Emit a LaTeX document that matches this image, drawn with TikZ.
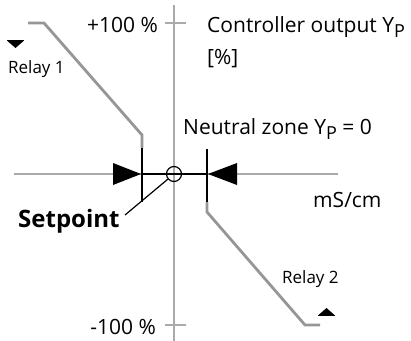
\documentclass[tikz,border=0pt]{standalone}
\usepackage{fontspec}
\setmainfont{Open Sans}
\definecolor{axisgray}{RGB}{170,170,170}
\definecolor{relaygray}{RGB}{150,150,150}
\begin{document}
\begin{tikzpicture}[x=1bp,y=-1bp,
  axisline/.style={draw=axisgray, line width=1.3bp},
  relayline/.style={draw=relaygray, line width=2.8bp, line join=miter},
  zoneline/.style={draw=black, line width=1.5bp},
  marker/.style={fill=black, draw=none},
  lbl/.style={font=\fontsize{21bp}{25bp}\selectfont, inner sep=0pt, anchor=base west},
  smalllbl/.style={font=\fontsize{17bp}{20bp}\selectfont, inner sep=0pt, anchor=base west},
  boldlbl/.style={font=\fontsize{24bp}{28bp}\selectfont\bfseries, inner sep=0pt, anchor=base west}]
\useasboundingbox (0,0) rectangle (411,341);
% axes
\coordinate (yt) at (174,5);
\coordinate (yb) at (174,341);
\coordinate (xl) at (14,174);
\coordinate (xr) at (338,174);
\draw[axisline] (yt) -- (yb);
\draw[axisline] (xl) -- (xr);
\coordinate (t1l) at (165,23); \coordinate (t1r) at (186,23);
\coordinate (t2l) at (165,325); \coordinate (t2r) at (186,325);
\draw[axisline] (t1l) -- (t1r);
\draw[axisline] (t2l) -- (t2r);
% relay 1 curve
\coordinate (r1a) at (28,23);
\coordinate (r1b) at (44,23);
\coordinate (r1c) at (142,135);
\coordinate (z1t) at (142,148);
\coordinate (z1b) at (142,202);
\draw[relayline] (r1a) -- (r1b) -- (r1c) -- (z1t);
% relay 2 curve
\coordinate (z2t) at (207,149);
\coordinate (z2b) at (207,202);
\coordinate (r2a) at (207,212);
\coordinate (r2b) at (305,325);
\coordinate (r2c) at (320,325);
\draw[relayline] (z2b) -- (r2a) -- (r2b) -- (r2c);
% neutral zone
\draw[zoneline] (z1t) -- (z1b);
\draw[zoneline] (z2t) -- (z2b);
\coordinate (nzl) at (142,174);
\coordinate (nzr) at (207,174);
\draw[zoneline] (nzl) -- (nzr);
\fill[marker] (113,163) -- (141,174) -- (113,185) -- cycle;
\fill[marker] (237,163) -- (208,174) -- (237,185) -- cycle;
% setpoint circle
\node[circle, draw=black, line width=1.2bp, minimum size=15bp, inner sep=0pt] (sp) at (174,174) {};
% relay markers
\draw[black, line width=1.6bp] (7,40.5) -- (24,40.5);
\fill[marker] (7.5,41) -- (23.5,41) -- (15.5,48) -- cycle;
\draw[black, line width=1.6bp] (318,315.5) -- (335,315.5);
\fill[marker] (318.5,315) -- (334.5,315) -- (326.5,308) -- cycle;
% labels
\node[lbl, anchor=base east] (plus) at (158,32) {+100 \%};
\node[lbl, anchor=base east] (minus) at (156,334) {-100 \%};
\node[lbl] (ctrl) at (207,32) {Controller output Y\raisebox{-5bp}{\fontsize{18bp}{21bp}\selectfont P}};
\node[lbl] (pct) at (207,64) {[\%]};
\node[lbl] (neut) at (183,134) {Neutral zone Y\raisebox{-5bp}{\fontsize{18bp}{21bp}\selectfont P} = 0};
\node[lbl] (ms) at (313,207) {mS/cm};
\node[boldlbl] (setp) at (18,227) {Setpoint};
\node[smalllbl] (rel1) at (8,73) {Relay 1};
\node[smalllbl] (rel2) at (282,283) {Relay 2};
% leader
\coordinate (spl) at (125,215);
\draw[black, line width=1.2bp] (spl) -- (sp);
\end{tikzpicture}
\end{document}
